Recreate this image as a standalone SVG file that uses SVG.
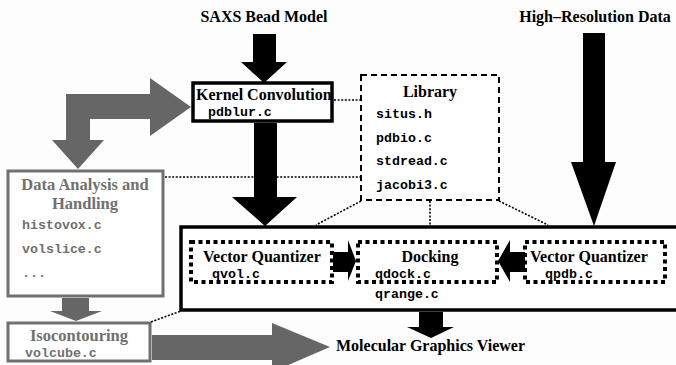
<svg xmlns="http://www.w3.org/2000/svg" width="676" height="365" viewBox="0 0 676 365">
<style>
.lbl{font-family:"Liberation Serif","Times New Roman",serif;font-weight:bold;font-size:16px;fill:#000}
.glbl{font-family:"Liberation Serif","Times New Roman",serif;font-weight:bold;font-size:16.5px;fill:#707070}
.code{font-family:"Liberation Mono","Courier New",monospace;font-weight:bold;font-size:13.3px;fill:#000}
.gcode{font-family:"Liberation Mono","Courier New",monospace;font-weight:bold;font-size:13.3px;fill:#707070}
.box{fill:#fff;stroke:#000;stroke-width:3.5}
.gbox{fill:#fff;stroke:#707070;stroke-width:3}
.dbox{fill:none;stroke:#000;stroke-width:4;stroke-dasharray:4 3.5}
.lib{fill:#fff;stroke:#000;stroke-width:2;stroke-dasharray:6 4}
.dot{fill:none;stroke:#000;stroke-width:1.6;stroke-dasharray:2 1.6}
.blk{fill:#000}
.gry{fill:#666}
</style>
<rect width="676" height="365" fill="#fdfdfd"/>

<g id="saxs"><text class="lbl" x="264" y="22" text-anchor="middle">SAXS Bead Model</text></g>
<g id="highres"><text class="lbl" x="595" y="22" text-anchor="middle">High–Resolution Data</text></g>

<g id="kernel">
  <rect class="box" x="193" y="83" width="139" height="38"/>
  <text class="lbl" x="196" y="100">Kernel Convolution</text>
  <text class="code" x="208" y="116">pdblur.c</text>
</g>

<g id="library">
  <rect class="lib" x="361" y="75" width="138" height="125"/>
  <text class="lbl" x="430" y="97" text-anchor="middle">Library</text>
  <text class="code" x="376" y="118">situs.h</text>
  <text class="code" x="376" y="142">pdbio.c</text>
  <text class="code" x="376" y="165">stdread.c</text>
  <text class="code" x="376" y="189">jacobi3.c</text>
</g>

<g id="analysis">
  <rect class="gbox" x="8" y="171" width="155" height="125"/>
  <text class="glbl" x="85" y="190" text-anchor="middle">Data Analysis and</text>
  <text class="glbl" x="85" y="209" text-anchor="middle">Handling</text>
  <text class="gcode" x="22" y="229">histovox.c</text>
  <text class="gcode" x="22" y="253">volslice.c</text>
  <text class="gcode" x="22" y="277">...</text>
</g>

<g id="isocontouring">
  <rect class="gbox" x="8" y="323" width="142" height="38"/>
  <text class="glbl" x="79" y="341" text-anchor="middle">Isocontouring</text>
  <text class="gcode" x="25" y="357">volcube.c</text>
</g>

<g id="main">
  <rect class="box" x="181" y="227" width="500" height="83" stroke-width="4"/>
</g>

<g id="vq-left">
  <rect class="dbox" x="191" y="242" width="141" height="40"/>
  <text class="lbl" x="203" y="262">Vector Quantizer</text>
  <text class="code" x="212" y="278">qvol.c</text>
</g>

<g id="docking">
  <rect class="dbox" x="358" y="242" width="139" height="40"/>
  <text class="lbl" x="430" y="262" text-anchor="middle">Docking</text>
  <text class="code" x="375" y="278">qdock.c</text>
  <text class="code" x="375" y="298">qrange.c</text>
</g>

<g id="vq-right">
  <rect class="dbox" x="525" y="242" width="140" height="40"/>
  <text class="lbl" x="530" y="262">Vector Quantizer</text>
  <text class="code" x="545" y="278">qpdb.c</text>
</g>

<g id="viewer"><text class="lbl" x="336" y="351">Molecular Graphics Viewer</text></g>

<g id="connectors">
  <line class="dot" x1="334" y1="100" x2="360" y2="100"/>
  <line class="dot" x1="165" y1="177" x2="360" y2="177"/>
  <line class="dot" x1="361" y1="201" x2="316" y2="225"/>
  <line class="dot" x1="430" y1="201" x2="430" y2="225"/>
  <line class="dot" x1="499" y1="201" x2="548" y2="225"/>
  <line class="dot" x1="151" y1="322" x2="181" y2="311"/>
  <polygon class="blk" points="253,34 276,34 276,62 287,62 264,83 241,62 253,62"/>
  <polygon class="blk" points="254,123 277,123 277,197 297,197 265,226 232,197 254,197"/>
  <polygon class="blk" points="583,33 605,33 605,162 616,162 594,226 571,162 583,162"/>
  <polygon class="blk" points="333,252 348,252 348,240 356,261 348,281 348,272 333,272"/>
  <polygon class="blk" points="525,252 510,252 510,240 498,261 510,282 510,272 525,272"/>
  <polygon class="blk" points="419,312 443,312 443,327 454,327 431,338 407,327 419,327"/>
  <polygon class="gry" points="66,140 66,94 150,94 150,78 191,107 150,136 150,119 90,119 90,140 104,140 78,169 52,140"/>
  <polygon class="gry" points="62,298 89,298 89,311 102,311 76,321 50,311 62,311"/>
  <polygon class="gry" points="152,335 272,335 272,323 330,347 272,372 272,360 152,360"/>
</g>
</svg>
